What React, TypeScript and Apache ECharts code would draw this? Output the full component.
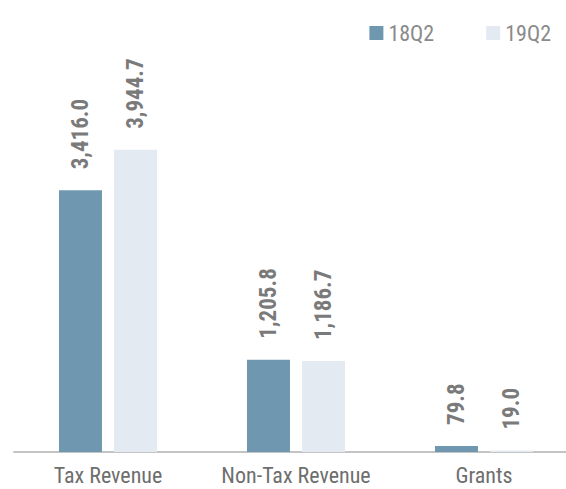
import React, { useEffect, useRef } from "react";
import * as echarts from "echarts";

const categories = ["Tax Revenue", "Non-Tax Revenue", "Grants"];
const series18Q2 = [3416.0, 1205.8, 79.8];
const series19Q2 = [3944.7, 1186.7, 19.0];
const seriesNames = ["18Q2", "19Q2"];

const FONT = "'Roboto Condensed', 'Liberation Sans Narrow', Roboto, sans-serif";

export default function App() {
  const ref = useRef<HTMLDivElement>(null);
  useEffect(() => {
    if (!ref.current) return;
    const chart = echarts.init(ref.current, undefined, { renderer: "svg" });
    const fmt = (p: any) =>
      Number(p.value).toLocaleString("en-US", { minimumFractionDigits: 1, maximumFractionDigits: 1 });
    const label = {
      show: true,
      position: "top",
      rotate: 90,
      align: "left",
      verticalAlign: "middle",
      distance: 21,
      formatter: fmt,
      color: "#7a7a7a",
      fontWeight: "bold",
      fontSize: 23,
      fontFamily: FONT,
    };
    chart.setOption({
      animation: false,
      textStyle: { fontFamily: FONT },
      legend: {
        data: seriesNames,
        right: 10,
        top: 17,
        itemWidth: 14,
        itemHeight: 14,
        itemGap: 52,
        icon: "rect",
        textStyle: { color: "#8a8a8a", fontSize: 22, fontFamily: FONT },
      },
      grid: {
        left: 14,
        width: 564,
        top: 69,
        height: 383,
        containLabel: false,
        outerBoundsMode: "none",
      },
      xAxis: {
        type: "category",
        data: categories,
        axisTick: { show: false },
        axisLine: { lineStyle: { color: "#c4c4c4", width: 2 } },
        axisLabel: {
          color: "#6e6e6e",
          fontSize: 22,
          margin: 12,
          interval: 0,
          hideOverlap: false,
          fontFamily: FONT,
        },
      },
      yAxis: {
        type: "value",
        min: 0,
        max: 5000,
        show: false,
        splitLine: { show: false },
      },
      series: [
        {
          name: seriesNames[0],
          type: "bar",
          data: series18Q2,
          barWidth: 43,
          barGap: "28%",
          itemStyle: { color: "#6f98b0" },
          label,
        },
        {
          name: seriesNames[1],
          type: "bar",
          data: series19Q2,
          barWidth: 43,
          itemStyle: { color: "#e3eaf1" },
          label,
        },
      ],
    });
    return () => chart.dispose();
  }, []);
  return (
    <div
      ref={ref}
      style={{ position: "absolute", left: 0, top: 0, width: 566, height: 489 }}
    />
  );
}
